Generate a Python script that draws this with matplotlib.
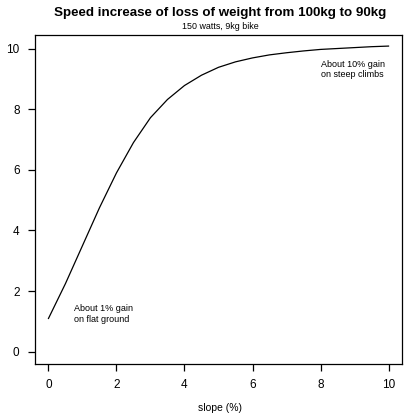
import matplotlib
matplotlib.use('Agg')
import matplotlib.pyplot as plt
import numpy as np

# speed increase (%), per slope (%)
slope = [0, 0.5, 1, 1.5, 2, 2.5, 3, 3.5, 4, 4.5, 5, 5.5, 6, 6.5, 7, 7.5, 8, 8.5, 9, 9.5, 10]
gain = [1.1, 2.25, 3.5, 4.75, 5.9, 6.9, 7.72, 8.32, 8.78, 9.12, 9.38, 9.56, 9.69, 9.79,
        9.86, 9.92, 9.97, 10.0, 10.03, 10.06, 10.08]
x_ticks = [0, 2, 4, 6, 8, 10]
y_ticks = [0, 2, 4, 6, 8, 10]

title = 'Speed increase of loss of weight from 100kg to 90kg'
subtitle = '150 watts, 9kg bike'
note_high = 'About 10% gain\non steep climbs'
note_low = 'About 1% gain\non flat ground'

plt.rcParams['font.family'] = ['Liberation Sans', 'DejaVu Sans']

fig = plt.figure(figsize=(4.15, 4.15), dpi=100)
ax = fig.add_axes([0.084, 0.123, 0.885, 0.793])

ax.plot(slope, gain, color='black', linewidth=0.9)

ax.set_xlim(-0.4, 10.4)
ax.set_ylim(-0.4, 10.45)
ax.set_xticks(x_ticks)
ax.set_yticks(y_ticks)
ax.tick_params(direction='out', length=5, width=0.9, labelsize=8.5, pad=6)
for s in ax.spines.values():
    s.set_linewidth(0.9)

ax.text(8.0, 9.3, note_high, fontsize=6.5, ha='left', va='center', multialignment='left')
ax.text(0.75, 1.25, note_low, fontsize=6.5, ha='left', va='center', multialignment='left')

fig.text(0.53, 0.968, title, fontsize=9.6, fontweight='bold', ha='center', va='center')
fig.text(0.53, 0.937, subtitle, fontsize=6.4, ha='center', va='center')
fig.text(0.53, 0.018, 'slope (%)', fontsize=7.5, ha='center', va='center')

fig.savefig('out.png', dpi=100, facecolor='white')
